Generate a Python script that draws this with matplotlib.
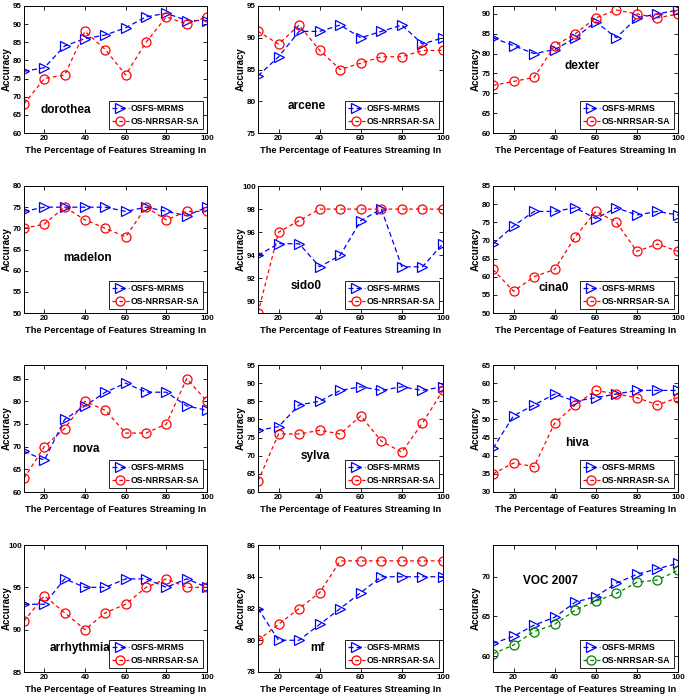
import matplotlib
matplotlib.use('Agg')
import matplotlib.pyplot as plt

plt.rcParams['font.family'] = ['Liberation Sans', 'DejaVu Sans']
plt.rcParams['font.weight'] = 'bold'

pct = [10, 20, 30, 40, 50, 60, 70, 80, 90, 100]

names = ['dorothea', 'arcene', 'dexter',
         'madelon', 'sido0', 'cina0',
         'nova', 'sylva', 'hiva',
         'arrhythmia', 'mf', 'VOC 2007']

osfs_mrms = [
    [77, 78, 84, 86, 87, 89, 92, 93, 91, 91],
    [84, 87, 91, 91, 92, 90, 91, 92, 89, 90],
    [84, 82, 80, 81, 84, 88, 84, 89, 90, 91],
    [74, 75, 75, 75, 75, 74, 75, 74, 73, 75],
    [94, 95, 95, 93, 94, 97, 98, 93, 93, 95],
    [69, 74, 78, 78, 79, 76, 79, 77, 78, 77],
    [69, 67, 76, 79, 82, 84, 82, 82, 79, 78],
    [77, 78, 84, 85, 88, 89, 88, 89, 88, 89],
    [42, 51, 54, 57, 55, 56, 57, 58, 58, 58],
    [93, 93, 96, 95, 95, 96, 96, 95, 96, 95],
    [82, 80, 80, 81, 82, 83, 84, 84, 84, 84],
    [61.6, 62.5, 63.9, 64.9, 66.8, 67.5, 69.2, 70.3, 71.0, 71.7],
]

os_nrrsar = [
    [68, 75, 76, 88, 83, 76, 85, 92, 90, 92],
    [91, 89, 92, 88, 85, 86, 87, 87, 88, 88],
    [72, 73, 74, 82, 85, 89, 91, 90, 89, 90],
    [70, 71, 75, 72, 70, 68, 75, 72, 74, 74],
    [89, 96, 97, 98, 98, 98, 98, 98, 98, 98],
    [62, 56, 60, 62, 71, 78, 75, 67, 69, 67],
    [63, 70, 74, 80, 78, 73, 73, 75, 85, 80],
    [63, 76, 76, 77, 76, 81, 74, 71, 79, 88],
    [35, 38, 37, 49, 54, 58, 57, 56, 54, 56],
    [91, 94, 92, 90, 92, 93, 95, 96, 95, 95],
    [80, 81, 82, 83, 85, 85, 85, 85, 85, 85],
    [60.3, 61.4, 63.1, 64.0, 65.8, 66.9, 67.9, 69.3, 69.6, 70.8],
]

second_labels = ['OS-NRRSAR-SA'] * 12
second_labels[8] = 'OS-NRRASR-SA'

ylims = [(60, 95), (75, 95), (60, 92),
         (50, 80), (89, 100), (50, 85),
         (60, 88), (60, 95), (30, 65),
         (85, 100), (78, 86), (58, 74)]
ystep = [5, 5, 5, 5, 2, 5, 5, 5, 5, 5, 2, 5]

name_pos = [(18, 66.3), (24.6, 79.2), (44.7, 76.8),
            (29.4, 63.1), (25.8, 91.3), (32, 57),
            (33.5, 69.4), (30.8, 69.9), (45, 43.6),
            (22.8, 87.8), (35.6, 79.5), (24.7, 69.5)]

W, H = 685, 697
col_left = [24, 258, 493]
col_width = [183, 185, 185]
row_top = [6, 186, 365, 545]
row_height = 127

fig = plt.figure(figsize=(W / 100, H / 100), dpi=100)

for i, name in enumerate(names):
    r, c = divmod(i, 3)
    ax = fig.add_axes([col_left[c] / W, 1 - (row_top[r] + row_height) / H,
                       col_width[c] / W, row_height / H])
    second_color = 'green' if name == 'VOC 2007' else 'red'
    ax.plot(pct, osfs_mrms[i], '--', color='blue', marker='>', markersize=6.5,
            markerfacecolor='none', markeredgewidth=0.9, linewidth=0.9,
            dashes=(4, 2.5), label='OSFS-MRMS')
    ax.plot(pct, os_nrrsar[i], '--', color=second_color, marker='o', markersize=6.5,
            markerfacecolor='none', markeredgewidth=0.9, linewidth=0.9,
            dashes=(3, 2.5), label=second_labels[i])
    lo, hi = ylims[i]
    ax.set_xlim(10, 100)
    ax.set_ylim(lo, hi)
    first = lo + (-lo) % ystep[i]
    ax.set_yticks(list(range(int(first), int(hi) + 1, ystep[i])))
    ax.set_xticks([20, 40, 60, 80, 100])
    ax.tick_params(direction='in', top=True, right=True, labelsize=5.8,
                   length=3, width=0.6, pad=1.5)
    for s in ax.spines.values():
        s.set_linewidth(0.7)
    ax.set_xlabel('The Percentage of Features Streaming In', fontsize=6.7,
                  fontweight='bold', labelpad=3)
    ax.set_ylabel('Accuracy', fontsize=7, fontweight='bold')
    # keep the y label at the same spot for all panels (room is tight on the left)
    ax.yaxis.set_label_coords(-12.5 / col_width[c], 0.5)
    ax.text(name_pos[i][0], name_pos[i][1], name, fontsize=8.5,
            fontweight='bold', ha='left', va='center')
    leg = ax.legend(loc='lower right', fontsize=6.3, frameon=True, fancybox=False,
                    edgecolor='black', framealpha=1, handlelength=2.0,
                    handletextpad=0.2, borderpad=0.35, labelspacing=0.45,
                    borderaxespad=0.5)
    leg.get_frame().set_linewidth(0.6)

fig.savefig('out.png', dpi=100)
